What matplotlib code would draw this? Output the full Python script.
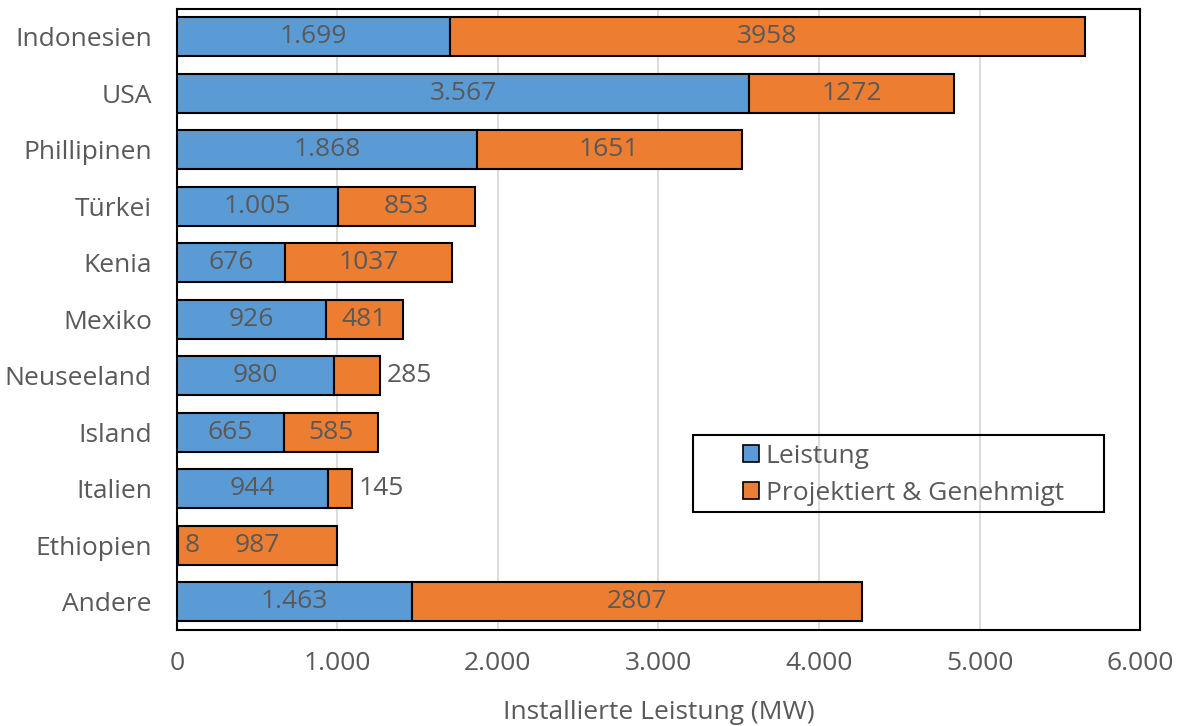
import matplotlib.pyplot as plt
from matplotlib.patches import Rectangle, Patch

# installed geothermal capacity per country (MW)
laender = ["Indonesien", "USA", "Phillipinen", "Türkei", "Kenia", "Mexiko",
           "Neuseeland", "Island", "Italien", "Ethiopien", "Andere"]
leistung = [1699, 3567, 1868, 1005, 676, 926, 980, 665, 944, 8, 1463]
projektiert = [3958, 1272, 1651, 853, 1037, 481, 285, 585, 145, 987, 2807]
leistung_txt = ["1.699", "3.567", "1.868", "1.005", "676", "926", "980",
                "665", "944", "8", "1.463"]
xticks = [0, 1000, 2000, 3000, 4000, 5000, 6000]
xtick_txt = ["0", "1.000", "2.000", "3.000", "4.000", "5.000", "6.000"]

BLAU = "#5b9bd5"
ORANGE = "#ed7d31"
GRAU = "#595959"

plt.rcParams["font.family"] = ["Open Sans", "DejaVu Sans"]

fig = plt.figure(figsize=(11.79, 7.26), dpi=100)
ax = fig.add_axes([0.150, 0.132, 0.817, 0.856])

y = list(range(len(laender)))
h = 0.69
ax.barh(y, leistung, height=h, color=BLAU, edgecolor="black", linewidth=1.5, zorder=3)
ax.barh(y, projektiert, left=leistung, height=h, color=ORANGE,
        edgecolor="black", linewidth=1.5, zorder=3)

fs = 19
for i in y:
    l, p = leistung[i], projektiert[i]
    if l > 100:
        ax.text(l / 2, i, leistung_txt[i], ha="center", va="center",
                fontsize=fs, color=GRAU, zorder=4)
    else:
        ax.text(l + 40, i, leistung_txt[i], ha="left", va="center",
                fontsize=fs, color=GRAU, zorder=4)
    if p > 300:
        ax.text(l + p / 2, i, str(p), ha="center", va="center",
                fontsize=fs, color=GRAU, zorder=4)
    else:
        ax.text(l + p + 40, i, str(p), ha="left", va="center",
                fontsize=fs, color=GRAU, zorder=4)

ax.set_xlim(0, 6000)
ax.set_ylim(len(laender) - 0.5, -0.5)
ax.set_yticks(y)
ax.set_yticklabels(laender)
ax.set_xticks(xticks)
ax.set_xticklabels(xtick_txt)
ax.tick_params(axis="both", length=0, labelsize=fs, colors=GRAU)
ax.tick_params(axis="y", pad=18)
ax.tick_params(axis="x", pad=15)
ax.xaxis.grid(True, color="#d9d9d9", linewidth=1.3, zorder=0)
ax.set_axisbelow(True)
for s in ax.spines.values():
    s.set_color("black")
    s.set_linewidth(1.5)

ax.set_xlabel("Installierte Leistung (MW)", fontsize=fs, color=GRAU, labelpad=17)

# legend frame drawn separately so the box can be wider than its entries
ax.add_patch(Rectangle((0.536, 0.190), 0.427, 0.124, transform=ax.transAxes,
                       fill=False, edgecolor="black", linewidth=1.5, zorder=5))
handles = [Patch(facecolor=BLAU, edgecolor="black", linewidth=1.2, label="Leistung"),
           Patch(facecolor=ORANGE, edgecolor="black", linewidth=1.2,
                 label="Projektiert & Genehmigt")]
leg = ax.legend(handles=handles, loc="upper left", bbox_to_anchor=(0.577, 0.317),
                frameon=False, fontsize=fs, handlelength=0.6, handleheight=0.6,
                handletextpad=0.25, labelspacing=0.45, borderaxespad=0)
for t in leg.get_texts():
    t.set_color(GRAU)

fig.savefig("out.png", dpi=100)
